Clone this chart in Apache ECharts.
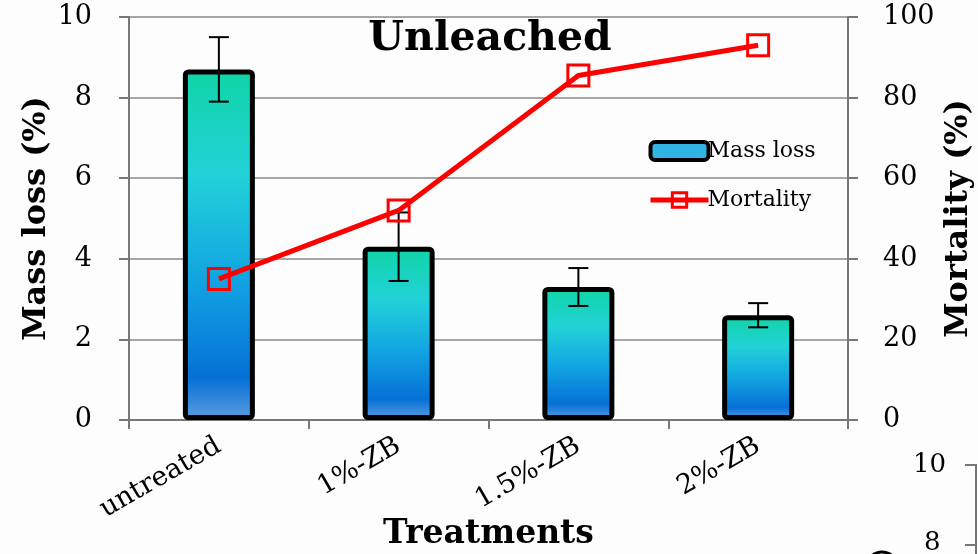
<!DOCTYPE html>
<html>
<head>
<meta charset="utf-8">
<script src="https://cdn.jsdelivr.net/npm/echarts@6/dist/echarts.min.js"></script>
<style>
  html, body { margin: 0; padding: 0; background: #fdfdfd; }
  #main { width: 978px; height: 554px; }
</style>
</head>
<body>
<div id="main"></div>
<script>
var chart = echarts.init(document.getElementById('main'));

// data
var treatments = ['untreated', '1%-ZB', '1.5%-ZB', '2%-ZB'];
var massLoss = [8.7, 4.3, 3.3, 2.6];
var massLossErr = [0.8, 0.85, 0.47, 0.3];
var mortality = [35, 52, 85.5, 93];
var leftTicks = [0, 2, 4, 6, 8, 10];
var rightTicks = [0, 20, 40, 60, 80, 100];

var serif = '"DejaVu Serif", "Liberation Serif", serif';

var errData = massLoss.map(function (v, i) {
    return [i, v - massLossErr[i], v + massLossErr[i]];
});

var barFill = new echarts.graphic.LinearGradient(0, 0, 0, 1, [
    { offset: 0, color: '#10d4a6' },
    { offset: 0.3, color: '#22d2d8' },
    { offset: 0.6, color: '#12a4e2' },
    { offset: 0.88, color: '#0670d6' },
    { offset: 1, color: '#5a9ee0' }
]);

var option = {
    backgroundColor: '#fdfdfd',
    animation: false,
    title: {
        text: 'Unleached',
        left: 485,
        top: 14,
        textAlign: 'center',
        textStyle: { fontFamily: serif, fontSize: 41, fontWeight: 'bold', color: '#000' }
    },
    legend: {
        orient: 'vertical',
        left: 643,
        top: 135,
        itemWidth: 58,
        itemHeight: 18,
        itemGap: 27,
        textStyle: { fontFamily: serif, fontSize: 22, color: '#000', padding: [0, 0, 0, -6] },
        data: [
            { name: 'Mass loss', itemStyle: { color: '#30b4e4', borderColor: '#000', borderWidth: 4 } },
            { name: 'Mortality', lineStyle: { width: 5, color: '#ff0000' }, itemStyle: { borderWidth: 3 } }
        ]
    },
    grid: { left: 129, right: 130, top: 17, bottom: 134, outerBoundsMode: 'none' },
    xAxis: {
        type: 'category',
        data: treatments,
        axisLine: { lineStyle: { color: '#777', width: 2 } },
        axisTick: { show: true, length: 9, lineStyle: { color: '#777', width: 2 } },
        axisLabel: {
            rotate: 30, margin: 24, interval: 0,
            fontFamily: serif, fontSize: 27, color: '#000'
        },
        name: 'Treatments',
        nameLocation: 'middle',
        nameGap: 98,
        nameMoveOverlap: false,
        nameTextStyle: { fontFamily: serif, fontSize: 33, fontWeight: 'bold', color: '#000' }
    },
    yAxis: [
        {
            type: 'value', min: leftTicks[0], max: leftTicks[leftTicks.length - 1], interval: 2,
            axisLine: { show: true, lineStyle: { color: '#777', width: 2 } },
            axisTick: { show: true, length: 10, lineStyle: { color: '#777', width: 2 } },
            splitLine: { show: true, lineStyle: { color: '#888', width: 1.5 } },
            axisLabel: { margin: 37, fontFamily: serif, fontSize: 27, color: '#000' },
            name: 'Mass loss (%)',
            nameLocation: 'middle',
            nameGap: 76,
            nameMoveOverlap: false,
            nameTextStyle: { fontFamily: serif, fontSize: 32, fontWeight: 'bold', color: '#000' }
        },
        {
            type: 'value', min: rightTicks[0], max: rightTicks[rightTicks.length - 1], interval: 20,
            position: 'right',
            axisLine: { show: true, lineStyle: { color: '#777', width: 2 } },
            axisTick: { show: true, length: 10, lineStyle: { color: '#777', width: 2 } },
            splitLine: { show: false },
            axisLabel: { margin: 35, fontFamily: serif, fontSize: 27, color: '#000' },
            name: 'Mortality (%)',
            nameLocation: 'middle',
            nameGap: 95,
            nameMoveOverlap: false,
            nameTextStyle: { fontFamily: serif, fontSize: 32, fontWeight: 'bold', color: '#000' }
        }
    ],
    series: [
        {
            name: 'Mass loss',
            type: 'bar',
            data: massLoss,
            barWidth: 72,
            itemStyle: { color: barFill, borderColor: '#000', borderWidth: 5, borderRadius: 3 },
            z: 2
        },
        {
            name: 'err',
            type: 'custom',
            data: errData,
            encode: { x: 0, y: [1, 2] },
            z: 3,
            renderItem: function (params, api) {
                var lo = api.coord([api.value(0), api.value(1)]);
                var hi = api.coord([api.value(0), api.value(2)]);
                var w = 10;
                var st = { stroke: '#000', lineWidth: 2 };
                return {
                    type: 'group',
                    children: [
                        { type: 'line', shape: { x1: hi[0], y1: hi[1], x2: lo[0], y2: lo[1] }, style: st },
                        { type: 'line', shape: { x1: hi[0] - w, y1: hi[1], x2: hi[0] + w, y2: hi[1] }, style: st },
                        { type: 'line', shape: { x1: lo[0] - w, y1: lo[1], x2: lo[0] + w, y2: lo[1] }, style: st }
                    ]
                };
            }
        },
        {
            name: 'Mortality',
            type: 'line',
            yAxisIndex: 1,
            data: mortality,
            symbol: 'rect',
            symbolSize: 21,
            lineStyle: { color: '#ff0000', width: 5 },
            itemStyle: { color: 'rgba(255,255,255,0)', borderColor: '#ff0000', borderWidth: 3 },
            z: 4
        }
    ],
    graphic: [
        { type: 'text', left: 913, top: 452, style: { text: '10', font: '26px ' + serif, fill: '#000' } },
        { type: 'text', left: 924, top: 530, style: { text: '8', font: '26px ' + serif, fill: '#000' } },
        { type: 'line', shape: { x1: 976, y1: 465, x2: 976, y2: 554 }, style: { stroke: '#777', lineWidth: 2 } },
        { type: 'line', shape: { x1: 965, y1: 465, x2: 977, y2: 465 }, style: { stroke: '#777', lineWidth: 2 } },
        { type: 'line', shape: { x1: 965, y1: 545, x2: 977, y2: 545 }, style: { stroke: '#777', lineWidth: 2 } },
        { type: 'circle', shape: { cx: 882, cy: 568, r: 16 }, style: { fill: 'none', stroke: '#000', lineWidth: 3 } }
    ]
};

chart.setOption(option);
</script>
</body>
</html>
